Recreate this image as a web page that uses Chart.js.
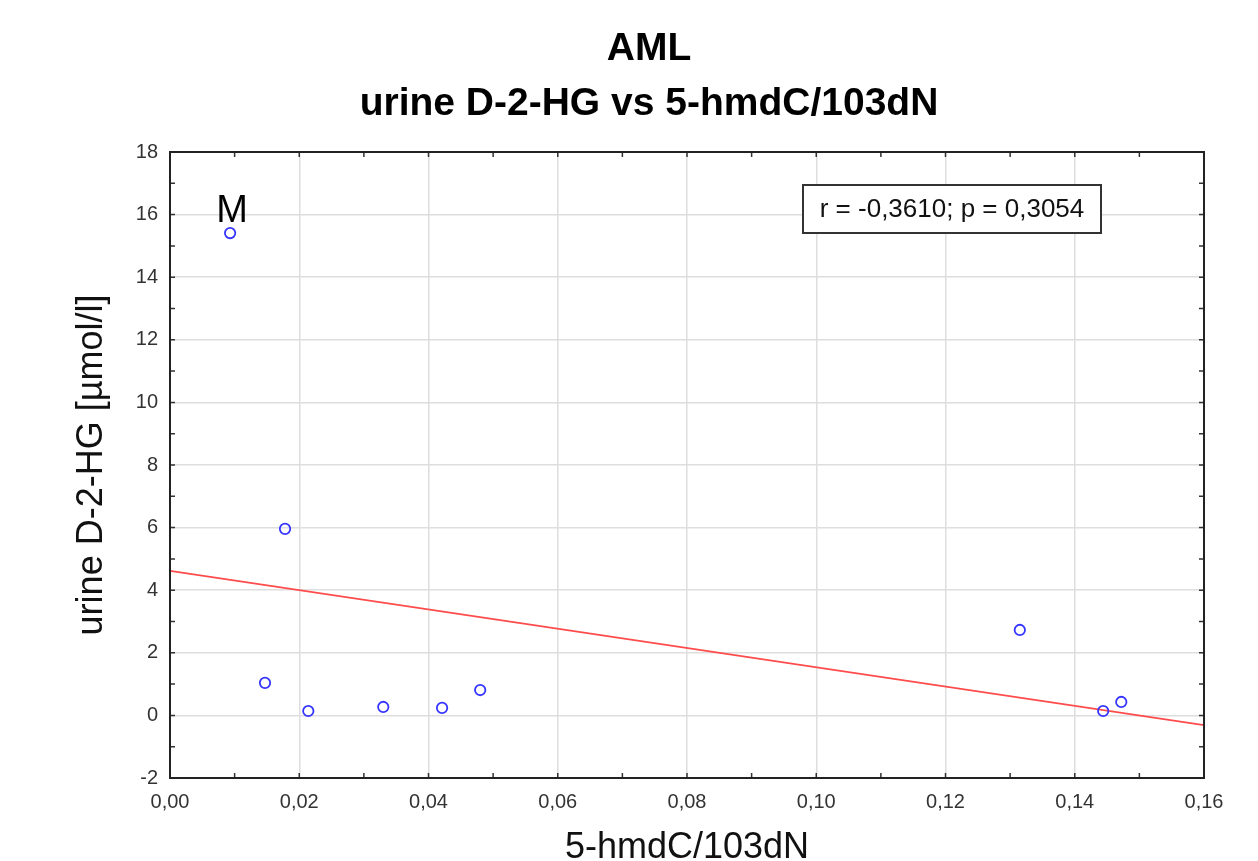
<!DOCTYPE html>
<html>
<head>
<meta charset="utf-8">
<title>AML urine D-2-HG vs 5-hmdC/103dN</title>
<script src="https://cdn.jsdelivr.net/npm/chart.js@4"></script>
<style>
    body { margin: 0; background: #fff; }
    canvas { display: block; }
</style>
</head>
<body>
<canvas id="chart" width="1258" height="861"></canvas>
<script>
// values
const hmdcValues  = [0.0093, 0.0147, 0.0178, 0.0214, 0.0330, 0.0421, 0.0480, 0.1315, 0.1444, 0.1472]
const d2hgValues  = [15.41, 1.04, 5.96, 0.14, 0.27, 0.24, 0.81, 2.73, 0.14, 0.43]
const fitX        = [0.00, 0.16]
const fitY        = [4.62, -0.31]
const titleLines  = ['AML', 'urine D-2-HG vs 5-hmdC/103dN']
const statsText   = 'r = -0,3610; p = 0,3054'
const pointLabel  = 'M'

const FONT = '"Liberation Sans", Arial, sans-serif'

const comma = (v, d) => v.toFixed(d).replace('.', ',')

// titles, frame, inner ticks, stats box, "M" label
const decorPlugin = {
    id: 'decor',
    afterDraw(chart) {
        const ctx  = chart.ctx
        const area = chart.chartArea
        const xs   = chart.scales.x
        const ys   = chart.scales.y

        ctx.save()

        // inner tick marks on all four sides
        ctx.strokeStyle = '#333'
        ctx.lineWidth   = 1.5
        ctx.beginPath()
        xs.ticks.forEach(t => {
            const px = xs.getPixelForValue(t.value)
            ctx.moveTo(px, area.bottom); ctx.lineTo(px, area.bottom - 5)
            ctx.moveTo(px, area.top);    ctx.lineTo(px, area.top + 5)
        })
        ys.ticks.forEach(t => {
            const py = ys.getPixelForValue(t.value)
            ctx.moveTo(area.left, py);  ctx.lineTo(area.left + 5, py)
            ctx.moveTo(area.right, py); ctx.lineTo(area.right - 5, py)
        })
        ctx.stroke()

        // frame
        ctx.strokeStyle = '#222'
        ctx.lineWidth   = 2
        ctx.strokeRect(area.left, area.top, area.right - area.left, area.bottom - area.top)

        // titles
        ctx.fillStyle    = '#000'
        ctx.textAlign    = 'center'
        ctx.textBaseline = 'alphabetic'
        ctx.font         = 'bold 39px ' + FONT
        ctx.fillText(titleLines[0], 649, 60)
        ctx.fillText(titleLines[1], 649, 115)

        // stats box
        const bx = area.right - 103 - 298
        const by = area.top + 33
        ctx.fillStyle = '#fff'
        ctx.fillRect(bx, by, 298, 48)
        ctx.strokeStyle = '#333'
        ctx.lineWidth   = 2
        ctx.strokeRect(bx, by, 298, 48)
        ctx.fillStyle    = '#111'
        ctx.font         = '26px ' + FONT
        ctx.textBaseline = 'middle'
        ctx.fillText(statsText, bx + 149, by + 25)

        // "M" above the first point
        const px = xs.getPixelForValue(hmdcValues[0])
        const py = ys.getPixelForValue(d2hgValues[0])
        ctx.fillStyle    = '#000'
        ctx.font         = '38px ' + FONT
        ctx.textBaseline = 'alphabetic'
        ctx.fillText(pointLabel, px + 2, py - 11)

        ctx.restore()
    }
}

window.addEventListener('DOMContentLoaded', function () {
    const canvas = document.getElementById('chart')

    new Chart(canvas, {
        type   : 'scatter',
        data   : {
            datasets: [
                {
                    type           : 'scatter',
                    data           : hmdcValues.map((x, i) => ({x, y: d2hgValues[i]})),
                    pointRadius    : 5.2,
                    pointBorderWidth: 1.8,
                    borderColor    : '#3535ff',
                    backgroundColor: 'rgba(0,0,0,0)',
                    order          : 1
                },
                {
                    type       : 'line',
                    data       : fitX.map((x, i) => ({x, y: fitY[i]})),
                    borderColor: '#ff4b4b',
                    borderWidth: 1.8,
                    pointRadius: 0,
                    fill       : false,
                    order      : 2
                }
            ]
        },
        options: {
            responsive : false,
            animation  : false,
            layout     : {padding: {left: 0, right: 54, top: 152, bottom: 0}},
            plugins    : {
                legend : {display: false},
                title  : {display: false},
                tooltip: {enabled: false}
            },
            scales     : {
                x: {
                    type : 'linear',
                    min  : 0,
                    max  : 0.16,
                    afterFit: scale => { scale.height = 83 },
                    border: {display: false},
                    grid : {
                        drawTicks: false,
                        lineWidth: 1.5,
                        color    : ctx => Math.round(ctx.tick.value * 100) % 2 === 0 ? '#dedede' : 'rgba(0,0,0,0)'
                    },
                    ticks: {
                        stepSize   : 0.01,
                        autoSkip   : false,
                        maxRotation: 0,
                        padding    : 12,
                        color      : '#333',
                        font       : {family: FONT, size: 20},
                        callback   : v => Math.round(v * 100) % 2 === 0 ? comma(v, 2) : ''
                    },
                    title: {
                        display: true,
                        text   : '5-hmdC/103dN',
                        color  : '#111',
                        font   : {family: FONT, size: 36, lineHeight: 1},
                        padding: {top: 0, bottom: -5}
                    }
                },
                y: {
                    type : 'linear',
                    min  : -2,
                    max  : 18,
                    afterFit: scale => { scale.width = 170 },
                    border: {display: false},
                    grid : {
                        drawTicks: false,
                        lineWidth: 1.5,
                        color    : ctx => Math.round(ctx.tick.value) % 2 === 0 ? '#dedede' : 'rgba(0,0,0,0)'
                    },
                    ticks: {
                        stepSize: 1,
                        autoSkip: false,
                        padding : 12,
                        color   : '#333',
                        font    : {family: FONT, size: 20},
                        callback: v => Math.round(v) % 2 === 0 ? String(v) : ''
                    },
                    title: {
                        display: true,
                        text   : 'urine D-2-HG [µmol/l]',
                        color  : '#111',
                        font   : {family: FONT, size: 36, lineHeight: 1},
                        padding: {top: 74, bottom: 0}
                    }
                }
            }
        },
        plugins: [decorPlugin]
    })
})
</script>
</body>
</html>
